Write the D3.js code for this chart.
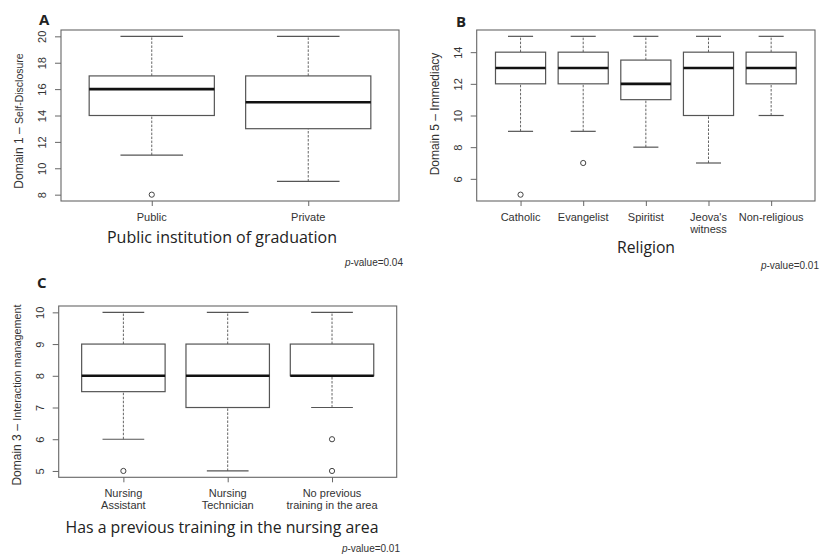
<!DOCTYPE html>
<html>
<head>
<meta charset="utf-8">
<script src="https://cdn.jsdelivr.net/npm/d3@7"></script>
<style>
  body { margin: 0; background: #fff; }
  svg { display: block; }
  .tick text { font-family: "Liberation Sans", Arial, sans-serif; font-size: 11px; fill: #333; }
  .tick line { stroke: #666; }
</style>
</head>
<body>
<svg id="chart" width="827" height="554"></svg>
<script>
// A: institution of graduation (min, q1, median, q3, max)
var institutionCats = [["Public"], ["Private"]];
var institutionStats = [[11, 14, 16, 17, 20], [9, 13, 15, 17, 20]];
var institutionOutliers = [[8], []];
var institutionTicks = [8, 10, 12, 14, 16, 18, 20];

// B: religion
var religionCats = [["Catholic"], ["Evangelist"], ["Spiritist"], ["Jeova's", "witness"], ["Non-religious"]];
var religionStats = [[9, 12, 13, 14, 15], [9, 12, 13, 14, 15], [8, 11, 12, 13.5, 15], [7, 10, 13, 14, 15], [10, 12, 13, 14, 15]];
var religionOutliers = [[5], [7], [], [], []];
var religionTicks = [6, 8, 10, 12, 14];

// C: previous training
var trainingCats = [["Nursing", "Assistant"], ["Nursing", "Technician"], ["No previous", "training in the area"]];
var trainingStats = [[6, 7.5, 8, 9, 10], [5, 7, 8, 9, 10], [7, 8, 8, 9, 10]];
var trainingOutliers = [[5], [], [6, 5]];
var trainingTicks = [5, 6, 7, 8, 9, 10];

var svg = d3.select("#chart");

function drawPanel(p) {
    var n = p.cats.length;
    var lo = d3.min(p.stats, function (s) { return s[0]; });
    var hi = d3.max(p.stats, function (s) { return s[4]; });
    p.outliers.forEach(function (o) { o.forEach(function (v) { lo = Math.min(lo, v); hi = Math.max(hi, v); }); });
    var padY = (hi - lo) * 0.04, padX = n * 0.04;

    var x = d3.scaleLinear().domain([0.5 - padX, n + 0.5 + padX]).range([p.left, p.right]);
    var y = d3.scaleLinear().domain([lo - padY, hi + padY]).range([p.bottom, p.top]);
    var g = svg.append("g");

    // y axis, R style rotated labels
    var ya = g.append("g").attr("transform", "translate(" + p.left + ",0)")
        .call(d3.axisLeft(y).tickValues(p.ticks).tickFormat(d3.format("d")).tickSize(6).tickPadding(0));
    ya.select(".domain").remove();
    ya.selectAll(".tick text")
        .attr("x", null).attr("dy", null)
        .attr("text-anchor", "middle")
        .attr("transform", "translate(-15,0) rotate(-90)");

    // x axis ticks, labels drawn by hand (multi-line)
    var xa = g.append("g").attr("transform", "translate(0," + p.bottom + ")")
        .call(d3.axisBottom(x).tickValues(d3.range(1, n + 1)).tickSize(5).tickFormat(""));
    xa.select(".domain").remove();
    p.cats.forEach(function (lines, i) {
        var t = g.append("text")
            .attr("x", x(i + 1)).attr("y", p.bottom + 20)
            .attr("text-anchor", "middle")
            .style("font-family", "'Liberation Sans', Arial, sans-serif")
            .style("font-size", "11px").style("fill", "#333");
        lines.forEach(function (l, j) {
            t.append("tspan").attr("x", x(i + 1)).attr("dy", j === 0 ? 0 : 12).text(l);
        });
    });

    var bw = 0.4, sw = 0.2;
    var boxes = g.selectAll(".box").data(p.stats).enter().append("g");
    // whiskers
    boxes.append("line")
        .attr("x1", function (d, i) { return x(i + 1); }).attr("x2", function (d, i) { return x(i + 1); })
        .attr("y1", function (d) { return y(d[0]); }).attr("y2", function (d) { return y(d[1]); })
        .attr("stroke", "#666").attr("stroke-dasharray", "2.5,1.5");
    boxes.append("line")
        .attr("x1", function (d, i) { return x(i + 1); }).attr("x2", function (d, i) { return x(i + 1); })
        .attr("y1", function (d) { return y(d[3]); }).attr("y2", function (d) { return y(d[4]); })
        .attr("stroke", "#666").attr("stroke-dasharray", "2.5,1.5");
    // staples
    [0, 4].forEach(function (k) {
        boxes.append("line")
            .attr("x1", function (d, i) { return x(i + 1 - sw); }).attr("x2", function (d, i) { return x(i + 1 + sw); })
            .attr("y1", function (d) { return y(d[k]); }).attr("y2", function (d) { return y(d[k]); })
            .attr("stroke", "#555").attr("stroke-width", 1.2);
    });
    boxes.append("rect")
        .attr("x", function (d, i) { return x(i + 1 - bw); })
        .attr("width", x(1 + bw) - x(1 - bw))
        .attr("y", function (d) { return y(d[3]); })
        .attr("height", function (d) { return y(d[1]) - y(d[3]); })
        .attr("fill", "#fff").attr("stroke", "#555").attr("stroke-width", 1.2);
    boxes.append("line")
        .attr("x1", function (d, i) { return x(i + 1 - bw); }).attr("x2", function (d, i) { return x(i + 1 + bw); })
        .attr("y1", function (d) { return y(d[2]); }).attr("y2", function (d) { return y(d[2]); })
        .attr("stroke", "#111").attr("stroke-width", 2.6);

    p.outliers.forEach(function (o, i) {
        o.forEach(function (v) {
            g.append("circle").attr("cx", x(i + 1)).attr("cy", y(v)).attr("r", 2.6)
                .attr("fill", "none").attr("stroke", "#444").attr("stroke-width", 1);
        });
    });

    // frame
    g.append("rect").attr("x", p.left).attr("y", p.top)
        .attr("width", p.right - p.left).attr("height", p.bottom - p.top)
        .attr("fill", "none").attr("stroke", "#666").attr("stroke-width", 1.1);

    // y title
    var yt = g.append("text")
        .attr("transform", "translate(" + (p.left - 38) + "," + p.ytY + ") rotate(-90)")
        .attr("text-anchor", "middle")
        .style("font-family", "'Liberation Sans', Arial, sans-serif").style("fill", "#333");
    yt.append("tspan").style("font-size", "12px").text(p.yMain);
    yt.append("tspan").style("font-size", p.ySubSize).text(p.ySub);

    // panel letter
    g.append("text").attr("x", p.letterX).attr("y", p.letterY).text(p.letter)
        .style("font-family", "'Open Sans', 'Noto Sans', sans-serif")
        .style("font-weight", "bold").style("font-size", "15px").style("fill", "#222");

    // x title
    g.append("text").attr("x", p.titleX).attr("y", p.titleY)
        .attr("text-anchor", "middle")
        .attr("textLength", p.titleW).attr("lengthAdjust", "spacingAndGlyphs")
        .style("font-family", "'Open Sans', 'Noto Sans', sans-serif")
        .style("font-size", "17px").style("fill", "#222")
        .text(p.title);

    // p-value
    var pv = g.append("text").attr("x", p.pvX).attr("y", p.pvY).attr("text-anchor", "end")
        .style("font-family", "'Liberation Sans', Arial, sans-serif")
        .style("font-size", "10px").style("fill", "#333");
    pv.append("tspan").style("font-style", "italic").text("p");
    pv.append("tspan").text("-value=" + p.pval);
}

drawPanel({
    cats: institutionCats, stats: institutionStats, outliers: institutionOutliers, ticks: institutionTicks,
    left: 61, right: 399, top: 30, bottom: 201,
    yMain: "Domain 1 \u2013 ", ySub: "Self-Disclosure", ySubSize: "10.5px", ytY: 121,
    letter: "A", letterX: 39, letterY: 25,
    title: "Public institution of graduation", titleX: 222, titleY: 243, titleW: 230,
    pval: "0.04", pvX: 403, pvY: 266
});

drawPanel({
    cats: religionCats, stats: religionStats, outliers: religionOutliers, ticks: religionTicks,
    left: 476.7, right: 815, top: 30, bottom: 201,
    yMain: "Domain 5 \u2013 ", ySub: "Immediacy", ySubSize: "12px", ytY: 114,
    letter: "B", letterX: 456, letterY: 27,
    title: "Religion", titleX: 646, titleY: 253, titleW: 58,
    pval: "0.01", pvX: 819, pvY: 269
});

drawPanel({
    cats: trainingCats, stats: trainingStats, outliers: trainingOutliers, ticks: trainingTicks,
    left: 58.7, right: 396.7, top: 306, bottom: 477.3,
    yMain: "Domain 3 \u2013 ", ySub: "Interaction management", ySubSize: "10.8px", ytY: 395,
    letter: "C", letterX: 37, letterY: 288,
    title: "Has a previous training in the nursing area", titleX: 222, titleY: 533, titleW: 313,
    pval: "0.01", pvX: 400, pvY: 552
});
</script>
</body>
</html>
